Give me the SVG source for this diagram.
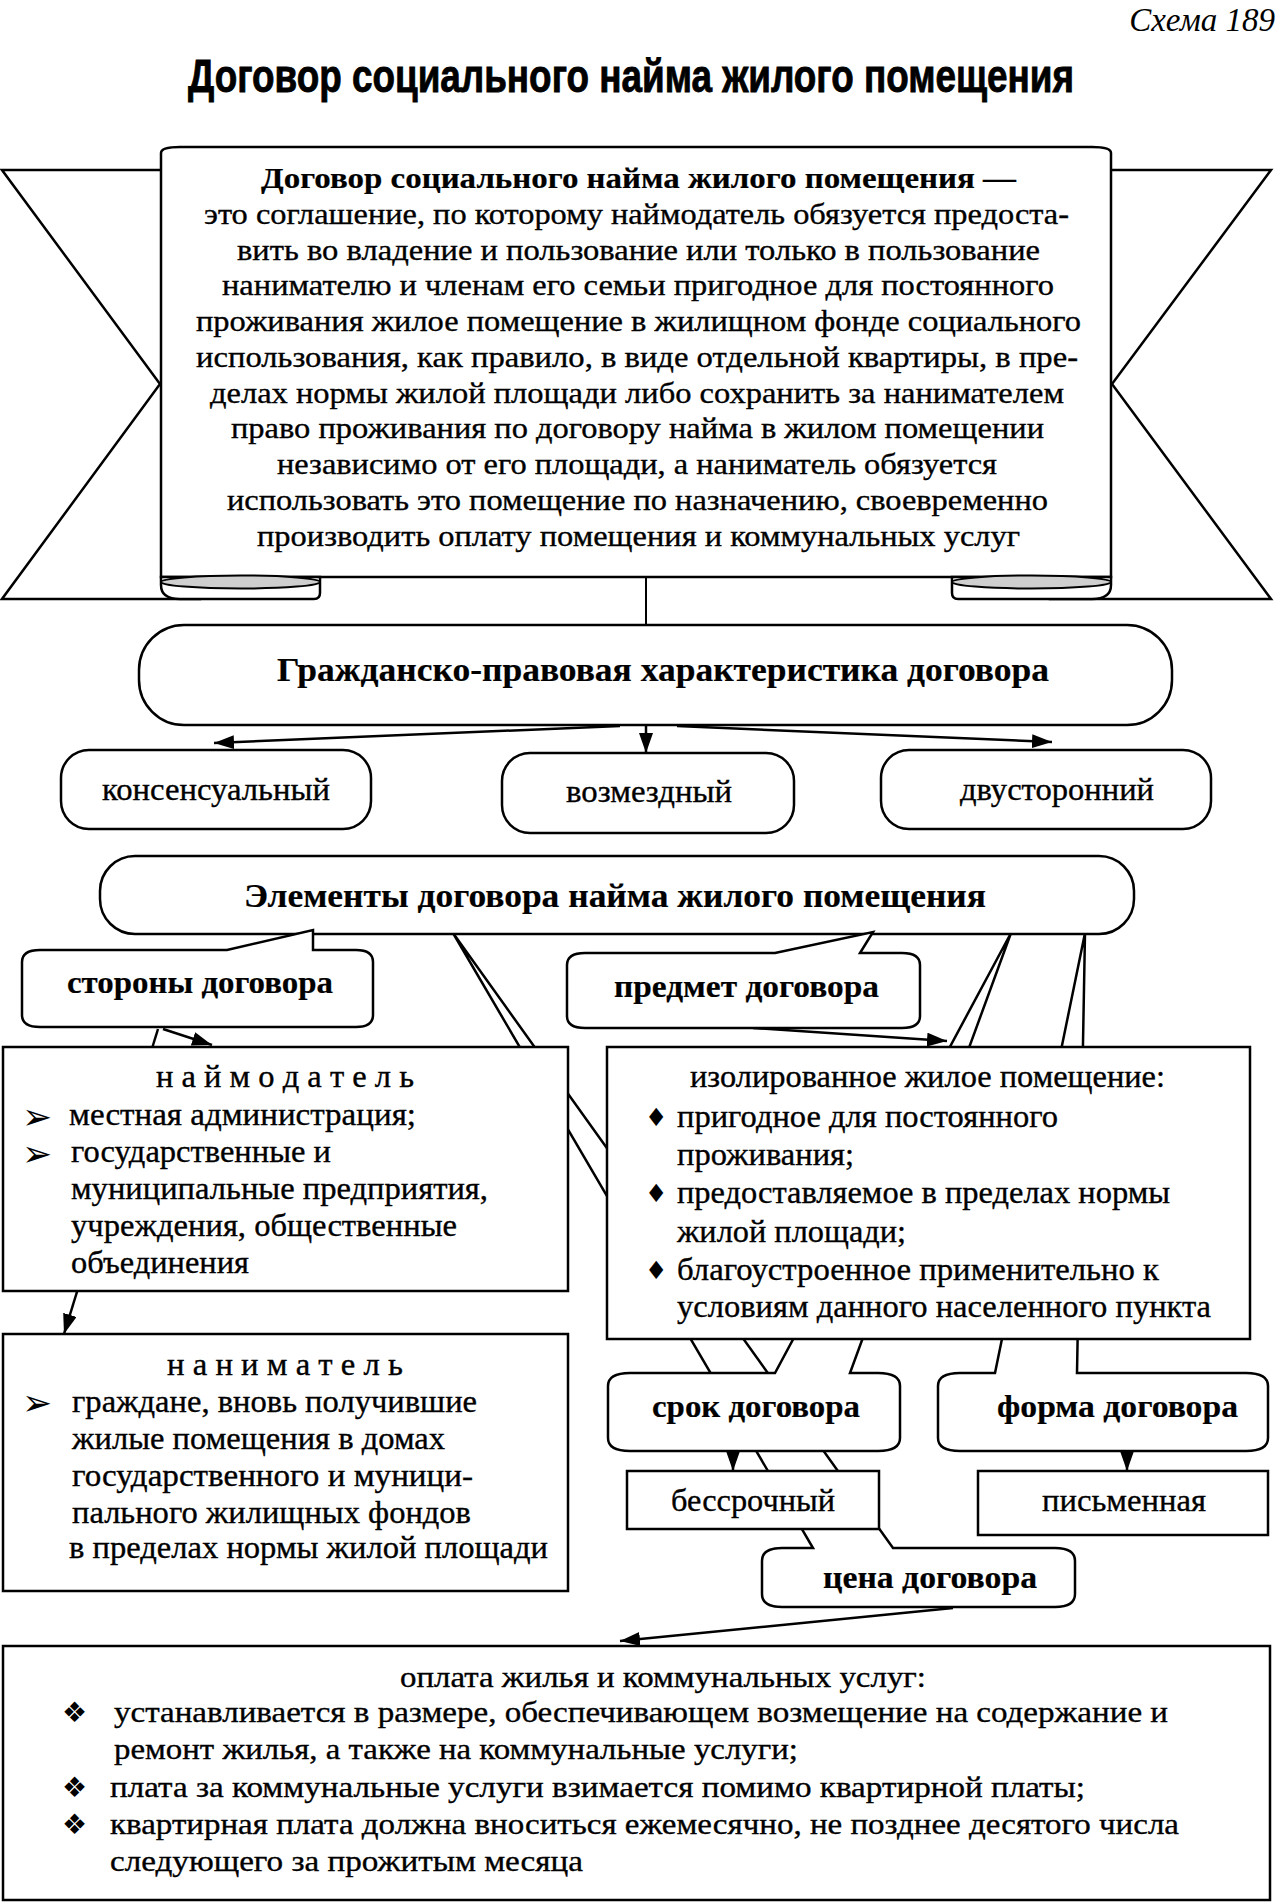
<svg xmlns="http://www.w3.org/2000/svg" width="1279" height="1903" viewBox="0 0 1279 1903">
<defs>
<style>
.box{fill:#fff;stroke:#000;stroke-width:2.5}
.ln{fill:none;stroke:#000;stroke-width:2}
.ar{fill:none;stroke:#000;stroke-width:2.5;marker-end:url(#ah)}
.t{font-family:"Liberation Serif","Times New Roman",serif;font-size:31px;fill:#000;stroke:#000;stroke-width:0.35}
.s{font-size:29px}
.o{font-size:30px}
.b{font-weight:bold;stroke-width:0.2}
.sym{font-family:"DejaVu Sans",sans-serif;fill:#000}
.fold{fill:#cfcfcf;stroke:#000;stroke-width:2}
</style>
<marker id="ah" viewBox="0 0 20 14" refX="20" refY="7" markerWidth="20" markerHeight="14" markerUnits="userSpaceOnUse" orient="auto">
<path d="M0,0 L20,7 L0,14 Z" fill="#000"/>
</marker>
</defs>
<rect width="1279" height="1903" fill="#fff"/>

<g id="header">
<text x="1275" y="31" text-anchor="end" style="font-family:'Liberation Serif',serif;font-style:italic;font-size:33px">Схема 189</text>
<g transform="translate(188,92) scale(1,1.24)">
<text x="0" y="0" textLength="886" lengthAdjust="spacingAndGlyphs" style="font-family:'Liberation Sans',Arial,sans-serif;font-weight:bold;font-size:37px;stroke:#000;stroke-width:0.7">Договор социального найма жилого помещения</text>
</g>
</g>

<g id="connectors">
<line class="ln" x1="646" y1="577" x2="646" y2="625"/>
<line class="ar" x1="620" y1="726" x2="214" y2="743"/>
<line class="ar" x1="646" y1="726" x2="646" y2="753"/>
<line class="ar" x1="677" y1="726" x2="1052" y2="742"/>
<line class="ar" x1="158" y1="1029" x2="64" y2="1334"/>
<line class="ar" x1="163" y1="1029" x2="212" y2="1045"/>
<line class="ar" x1="753" y1="1028" x2="947" y2="1041"/>
<line class="ar" x1="733" y1="1451" x2="733" y2="1471"/>
<line class="ar" x1="1127" y1="1451" x2="1127" y2="1471"/>
<line class="ar" x1="953" y1="1608" x2="620" y2="1641"/>
</g>

<g id="node-cena">
<path class="box" d="M762,1561 Q762,1548 782,1548 H813 L453,933 L893,1548 H1055 Q1075,1548 1075,1561 V1594 Q1075,1607 1055,1607 H782 Q762,1607 762,1594 Z"/>
<text class="t b" x="823" y="1588" textLength="214" lengthAdjust="spacingAndGlyphs">цена  договора</text>
</g>
<g id="node-srok">
<path class="box" d="M608,1386 Q608,1373 630,1373 H775 L1011,933 L850,1373 H878 Q900,1373 900,1386 V1438 Q900,1451 878,1451 H630 Q608,1451 608,1438 Z"/>
<text class="t b" x="652" y="1417" textLength="208" lengthAdjust="spacingAndGlyphs">срок  договора</text>
</g>
<g id="node-forma">
<path class="box" d="M938,1386 Q938,1373 960,1373 H995 L1085,933 L1077,1373 H1246 Q1268,1373 1268,1386 V1438 Q1268,1451 1246,1451 H960 Q938,1451 938,1438 Z"/>
<text class="t b" x="997" y="1417" textLength="241" lengthAdjust="spacingAndGlyphs">форма  договора</text>
</g>

<g id="node-definition">
<path class="box" d="M2,170 H200 V599 H2 L160,384 Z"/>
<path class="box" d="M1271,170 H1050 V599 H1271 L1112,384 Z"/>
<path class="box" d="M161,577 V153 Q161,147 180,147 H1092 Q1111,147 1111,153 V577 Z"/>
<path class="box" d="M161,577 V585 Q161,599 180,599 H314 Q320,599 320,593 V577 Z"/>
<ellipse class="fold" cx="240.5" cy="582" rx="79.5" ry="6.5"/>
<path class="box" d="M952,577 V593 Q952,599 958,599 H1092 Q1111,599 1111,585 V577 Z"/>
<ellipse class="fold" cx="1031.5" cy="582" rx="79.5" ry="6.5"/>
<text class="t s b" x="261" y="188" textLength="755" lengthAdjust="spacingAndGlyphs">Договор социального найма жилого помещения  —</text>
<text class="t s" x="204" y="223.75" textLength="865" lengthAdjust="spacingAndGlyphs">это соглашение, по которому наймодатель обязуется предоста-</text>
<text class="t s" x="237" y="259.5" textLength="803" lengthAdjust="spacingAndGlyphs">вить во владение и пользование или только в пользование</text>
<text class="t s" x="222" y="295.25" textLength="832" lengthAdjust="spacingAndGlyphs">нанимателю и членам его семьи пригодное для постоянного</text>
<text class="t s" x="196" y="331" textLength="885" lengthAdjust="spacingAndGlyphs">проживания жилое помещение в жилищном фонде социального</text>
<text class="t s" x="196" y="366.75" textLength="882" lengthAdjust="spacingAndGlyphs">использования, как правило, в виде отдельной квартиры, в пре-</text>
<text class="t s" x="210" y="402.5" textLength="854" lengthAdjust="spacingAndGlyphs">делах нормы жилой площади либо сохранить за нанимателем</text>
<text class="t s" x="231" y="438.25" textLength="813" lengthAdjust="spacingAndGlyphs">право проживания по договору найма в жилом помещении</text>
<text class="t s" x="277" y="474" textLength="720" lengthAdjust="spacingAndGlyphs">независимо от его площади, а наниматель обязуется</text>
<text class="t s" x="227" y="509.75" textLength="821" lengthAdjust="spacingAndGlyphs">использовать это помещение по назначению, своевременно</text>
<text class="t s" x="257" y="545.5" textLength="763" lengthAdjust="spacingAndGlyphs">производить оплату помещения и коммунальных услуг</text>
</g>

<g id="node-characteristic">
<rect class="box" x="139" y="625" width="1033" height="100" rx="45" ry="45"/>
<text class="t b" x="277" y="681" style="font-size:34px" textLength="772" lengthAdjust="spacingAndGlyphs">Гражданско-правовая  характеристика договора</text>
</g>
<g id="node-consensual">
<rect class="box" x="61" y="750" width="310" height="79" rx="28" ry="28"/>
<text class="t" x="102" y="800" textLength="228" lengthAdjust="spacingAndGlyphs">консенсуальный</text>
</g>
<g id="node-paid">
<rect class="box" x="502" y="753" width="292" height="80" rx="28" ry="28"/>
<text class="t" x="566" y="802" textLength="166" lengthAdjust="spacingAndGlyphs">возмездный</text>
</g>
<g id="node-bilateral">
<rect class="box" x="881" y="750" width="330" height="79" rx="28" ry="28"/>
<text class="t" x="960" y="800" textLength="194" lengthAdjust="spacingAndGlyphs">двусторонний</text>
</g>

<g id="node-elements">
<rect class="box" x="100" y="856" width="1034" height="78" rx="35" ry="35"/>
<text class="t b" x="244" y="907" style="font-size:34px" textLength="742" lengthAdjust="spacingAndGlyphs">Элементы договора найма жилого помещения</text>
</g>

<g id="node-parties">
<path class="box" d="M22,962 Q22,950 40,950 H227 L313,930 V950 H356 Q373,950 373,962 V1015 Q373,1027 356,1027 H40 Q22,1027 22,1015 Z"/>
<text class="t b" x="67" y="993" textLength="266" lengthAdjust="spacingAndGlyphs">стороны  договора</text>
</g>
<g id="node-subject">
<path class="box" d="M567,965 Q567,953 585,953 H775 L873,932 L860,953 H902 Q920,953 920,965 V1016 Q920,1028 902,1028 H585 Q567,1028 567,1016 Z"/>
<text class="t b" x="614" y="997" textLength="265" lengthAdjust="spacingAndGlyphs">предмет  договора</text>
</g>

<g id="node-landlord">
<rect class="box" x="3" y="1047" width="565" height="244"/>
<text class="t" x="156" y="1087" textLength="258" lengthAdjust="spacingAndGlyphs">н а й м о д а т е л ь</text>
<text class="sym" x="22" y="1129" style="font-size:36px">➢</text>
<text class="t" x="69" y="1125" textLength="347" lengthAdjust="spacingAndGlyphs">местная  администрация;</text>
<text class="sym" x="22" y="1166" style="font-size:36px">➢</text>
<text class="t" x="71" y="1162" textLength="260" lengthAdjust="spacingAndGlyphs">государственные и</text>
<text class="t" x="71" y="1199" textLength="417" lengthAdjust="spacingAndGlyphs">муниципальные предприятия,</text>
<text class="t" x="71" y="1236" textLength="386" lengthAdjust="spacingAndGlyphs">учреждения, общественные</text>
<text class="t" x="71" y="1273" textLength="178" lengthAdjust="spacingAndGlyphs">объединения</text>
</g>

<g id="node-premises">
<rect class="box" x="607" y="1047" width="643" height="292"/>
<text class="t" x="690" y="1087" textLength="475" lengthAdjust="spacingAndGlyphs">изолированное жилое помещение:</text>
<text class="sym" x="645" y="1126" style="font-size:25px">♦</text>
<text class="t" x="677" y="1127" textLength="381" lengthAdjust="spacingAndGlyphs">пригодное для постоянного</text>
<text class="t" x="677" y="1165" textLength="177" lengthAdjust="spacingAndGlyphs">проживания;</text>
<text class="sym" x="645" y="1202" style="font-size:25px">♦</text>
<text class="t" x="677" y="1203" textLength="493" lengthAdjust="spacingAndGlyphs">предоставляемое в пределах нормы</text>
<text class="t" x="677" y="1242" textLength="229" lengthAdjust="spacingAndGlyphs">жилой площади;</text>
<text class="sym" x="645" y="1279" style="font-size:25px">♦</text>
<text class="t" x="677" y="1280" textLength="482" lengthAdjust="spacingAndGlyphs">благоустроенное применительно к</text>
<text class="t" x="677" y="1317" textLength="534" lengthAdjust="spacingAndGlyphs">условиям данного населенного пункта</text>
</g>

<g id="node-tenant">
<rect class="box" x="3" y="1334" width="565" height="257"/>
<text class="t" x="167" y="1375" textLength="236" lengthAdjust="spacingAndGlyphs">н а н и м а т е л ь</text>
<text class="sym" x="22" y="1415" style="font-size:36px">➢</text>
<text class="t" x="72" y="1412" textLength="405" lengthAdjust="spacingAndGlyphs">граждане, вновь получившие</text>
<text class="t" x="72" y="1449" textLength="373" lengthAdjust="spacingAndGlyphs">жилые помещения в домах</text>
<text class="t" x="72" y="1486" textLength="401" lengthAdjust="spacingAndGlyphs">государственного и муници-</text>
<text class="t" x="72" y="1523" textLength="399" lengthAdjust="spacingAndGlyphs">пального жилищных фондов</text>
<text class="t" x="69" y="1558" textLength="479" lengthAdjust="spacingAndGlyphs">в пределах нормы жилой площади</text>
</g>

<g id="node-indefinite">
<rect class="box" x="627" y="1471" width="252" height="58"/>
<text class="t" x="671" y="1511" textLength="164" lengthAdjust="spacingAndGlyphs">бессрочный</text>
</g>
<g id="node-written">
<rect class="box" x="978" y="1471" width="290" height="64"/>
<text class="t" x="1042" y="1511" textLength="164" lengthAdjust="spacingAndGlyphs">письменная</text>
</g>

<g id="node-payment">
<rect class="box" x="3" y="1646" width="1267" height="254"/>
<text class="t o" x="400" y="1687" textLength="526" lengthAdjust="spacingAndGlyphs">оплата жилья и коммунальных услуг:</text>
<text class="sym" x="62" y="1722" style="font-size:28px">❖</text>
<text class="t o" x="114" y="1722" textLength="1054" lengthAdjust="spacingAndGlyphs">устанавливается в размере, обеспечивающем возмещение на содержание и</text>
<text class="t o" x="114" y="1759" textLength="684" lengthAdjust="spacingAndGlyphs">ремонт жилья, а также на коммунальные услуги;</text>
<text class="sym" x="62" y="1797" style="font-size:28px">❖</text>
<text class="t o" x="110" y="1797" textLength="975" lengthAdjust="spacingAndGlyphs">плата за коммунальные услуги взимается помимо квартирной платы;</text>
<text class="sym" x="62" y="1834" style="font-size:28px">❖</text>
<text class="t o" x="110" y="1834" textLength="1069" lengthAdjust="spacingAndGlyphs">квартирная плата должна вноситься ежемесячно, не позднее десятого числа</text>
<text class="t o" x="110" y="1871" textLength="473" lengthAdjust="spacingAndGlyphs">следующего за прожитым месяца</text>
</g>
</svg>
